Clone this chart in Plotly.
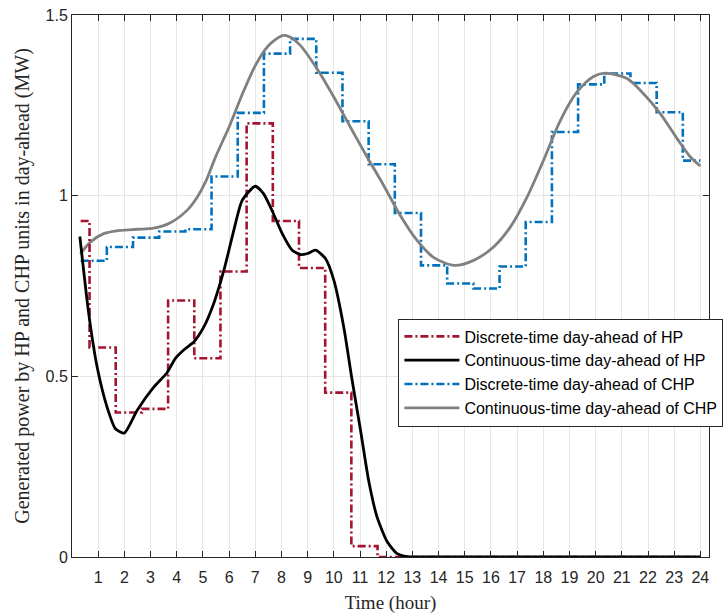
import plotly.graph_objects as go

# ---------------- data ----------------
# Discrete-time day-ahead of HP (step segments: start times and levels)
hp_disc_start = [0.33, 0.67, 1.67, 2.67, 3.67, 4.67, 5.67, 6.67, 7.67, 8.67, 9.67,
                 10.67, 11.67, 12.67, 13.67, 14.67, 15.67, 16.67, 17.67, 18.67,
                 19.67, 20.67, 21.67, 22.67, 23.67]
hp_disc_val = [0.93, 0.58, 0.40, 0.41, 0.71, 0.55, 0.79, 1.20, 0.93, 0.80, 0.455,
               0.03, 0, 0, 0, 0, 0, 0, 0, 0, 0, 0, 0, 0, 0]

# Discrete-time day-ahead of CHP
chp_disc_start = [0.33, 1.33, 2.33, 3.33, 4.33, 5.33, 6.33, 7.33, 8.33, 9.33, 10.33,
                  11.33, 12.33, 13.33, 14.33, 15.33, 16.33, 17.33, 18.33, 19.33,
                  20.33, 21.33, 22.33, 23.33]
chp_disc_val = [0.82, 0.858, 0.884, 0.901, 0.907, 1.053, 1.229, 1.393, 1.434, 1.340,
                1.206, 1.087, 0.952, 0.807, 0.757, 0.743, 0.804, 0.927, 1.176, 1.308,
                1.338, 1.312, 1.231, 1.097]
t_end = 24

# Continuous-time day-ahead of HP
hp_cont_t = [0.30, 0.64, 0.96, 1.34, 1.66, 2.0, 2.49, 3.12, 3.63, 3.95, 4.30, 4.65,
             5.03, 5.41, 5.80, 6.18, 6.50, 7.0, 7.32, 7.64, 8.03, 8.41, 8.72, 9.0,
             9.30, 9.68, 10.0, 10.38, 10.70, 11.02, 11.33, 11.65, 12.04, 12.42, 12.8,
             13.2, 14, 16, 18, 20, 22, 24]
hp_cont_val = [0.887, 0.673, 0.526, 0.415, 0.355, 0.343, 0.406, 0.470, 0.510, 0.550,
               0.575, 0.595, 0.636, 0.701, 0.793, 0.904, 0.987, 1.026, 1.005, 0.959,
               0.895, 0.849, 0.837, 0.840, 0.849, 0.826, 0.766, 0.636, 0.489, 0.351,
               0.212, 0.111, 0.042, 0.0094, 0.001, 0, 0, 0, 0, 0, 0, 0]

# Continuous-time day-ahead of CHP
chp_cont_t = [0.32, 0.71, 1.21, 1.85, 2.49, 3.12, 3.76, 4.40, 4.80, 5.10, 5.5, 6.0,
              6.5, 7.0, 7.5, 8.03, 8.30, 8.72, 9.36, 10.0, 10.63, 11.27, 11.9, 12.54,
              13.18, 13.81, 14.6, 15.34, 16.1, 16.74, 17.38, 18.01, 18.65, 19.29,
              19.92, 20.37, 21.2, 21.83, 22.47, 23.11, 23.62, 24.0]
chp_cont_val = [0.839, 0.872, 0.895, 0.904, 0.907, 0.910, 0.925, 0.960, 0.998, 1.038,
                1.11, 1.19, 1.28, 1.36, 1.415, 1.443, 1.440, 1.416, 1.351, 1.273,
                1.19, 1.107, 1.029, 0.945, 0.876, 0.829, 0.807, 0.821, 0.858, 0.913,
                0.996, 1.098, 1.208, 1.287, 1.330, 1.339, 1.324, 1.282, 1.227, 1.158,
                1.107, 1.082]

x_ticks = list(range(1, 25))
y_ticks = [0, 0.5, 1, 1.5]
y_tick_labels = ["0", "0.5", "1", "1.5"]

RED = "#A2142F"
BLUE = "#0072BD"
GRAY = "#808080"
AX = "#262626"
DASHDOT = "8px,3px,2px,3px"

fig = go.Figure()
fig.add_trace(go.Scatter(
    x=chp_disc_start + [t_end], y=chp_disc_val + [chp_disc_val[-1]],
    mode="lines", line=dict(color=BLUE, width=2.6, dash=DASHDOT, shape="hv"),
    name="Discrete-time day-ahead of CHP", legendrank=3))
fig.add_trace(go.Scatter(
    x=chp_cont_t, y=chp_cont_val, mode="lines",
    line=dict(color=GRAY, width=2.8, shape="spline", smoothing=0.8),
    name="Continuous-time day-ahead of CHP", legendrank=4))
fig.add_trace(go.Scatter(
    x=hp_disc_start + [t_end], y=hp_disc_val + [hp_disc_val[-1]],
    mode="lines", line=dict(color=RED, width=2.6, dash=DASHDOT, shape="hv"),
    name="Discrete-time day-ahead of HP", legendrank=1))
fig.add_trace(go.Scatter(
    x=hp_cont_t, y=hp_cont_val, mode="lines",
    line=dict(color="black", width=2.8, shape="spline", smoothing=0.6),
    name="Continuous-time day-ahead of HP", legendrank=2))

fig.update_layout(
    width=725, height=616,
    margin=dict(l=72, r=16, t=15, b=59, autoexpand=False),
    paper_bgcolor="white", plot_bgcolor="white",
    font=dict(family="Liberation Sans, Arial", size=16, color=AX),
    legend=dict(
        x=0.5124, y=0.44, xanchor="left", yanchor="top",
        bgcolor="white", bordercolor=AX, borderwidth=1,
        font=dict(family="Liberation Sans, Arial", size=16, color="black"),
        tracegroupgap=0, itemwidth=55, traceorder="normal",
    ),
    xaxis=dict(
        range=[0, 24.33], tickmode="array", tickvals=x_ticks,
        ticks="inside", ticklen=6, tickcolor=AX, tickwidth=1,
        showline=True, linecolor=AX, linewidth=1, mirror="ticks",
        showgrid=True, gridcolor="#e6e6e6", gridwidth=1, zeroline=False,
        ticklabelstandoff=6,
        tickfont=dict(family="Liberation Sans, Arial", size=16, color=AX),
        title=dict(text="Time (hour)", standoff=10,
                   font=dict(family="Liberation Serif, Times New Roman", size=19, color=AX)),
    ),
    yaxis=dict(
        range=[0, 1.5], tickmode="array", tickvals=y_ticks, ticktext=y_tick_labels,
        ticks="inside", ticklen=6, tickcolor=AX, tickwidth=1,
        showline=True, linecolor=AX, linewidth=1, mirror="ticks",
        showgrid=True, gridcolor="#e6e6e6", gridwidth=1, zeroline=False,
        tickfont=dict(family="Liberation Sans, Arial", size=16, color=AX),
        title=dict(text="Generated power by HP and CHP units in day-ahead (MW)", standoff=10,
                   font=dict(family="Liberation Serif, Times New Roman", size=20, color=AX)),
    ),
)

fig.write_html("out.html")
